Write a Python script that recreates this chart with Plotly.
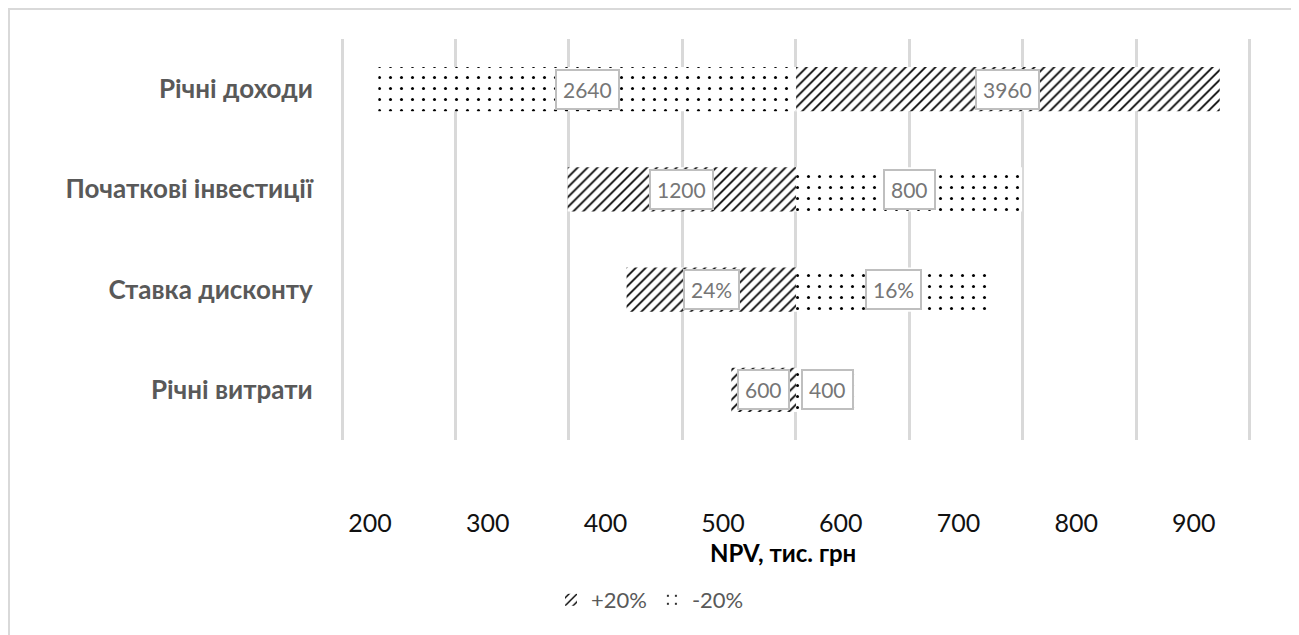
import plotly.graph_objects as go

# ---- data ----
categories = ["Річні доходи", "Початкові інвестиції", "Ставка дисконту", "Річні витрати"]
npv_base = 562
npv_plus20 = [922, 368, 418, 507]    # NPV when factor +20%
npv_minus20 = [207, 754, 728, 616]   # NPV when factor -20%
label_plus20 = ["3960", "1200", "24%", "600"]
label_minus20 = ["2640", "800", "16%", "400"]
tick_values = [200, 300, 400, 500, 600, 700, 800, 900]

# page has an 8px body margin; figure coordinates = page coordinates - 8
OFF = 8
W, H = 1299, 635
L = 330 - OFF            # plot left at page x=330
T = 39 - OFF             # plot top at page y=39
R = W - (1262 - OFF)     # plot right at page x=1262
B = H - (440 - OFF)      # plot bottom at page y=440
PW, PH = W - L - R, H - T - B
x_range = [166.0, 957.9]

def px_x(p):
    return (p - OFF - L) / PW

def px_y(p):
    return (H - B - (p - OFF)) / PH

fig = go.Figure()

fig.add_trace(go.Bar(
    name="+20%", y=categories, x=[v - npv_base for v in npv_plus20], base=npv_base,
    orientation="h",
    marker=dict(color="white", line=dict(width=0),
                pattern=dict(shape="/", fgcolor="#000000", bgcolor="white", fgopacity=1,
                             size=7, solidity=0.25)),
    hoverinfo="skip",
))
fig.add_trace(go.Bar(
    name="-20%", y=categories, x=[v - npv_base for v in npv_minus20], base=npv_base,
    orientation="h",
    marker=dict(color="white", line=dict(width=0),
                pattern=dict(shape=".", fgcolor="#000000", bgcolor="white", fgopacity=1,
                             size=11, solidity=0.06)),
    hoverinfo="skip",
))
# empty helper trace so the grid-only overlay axis is drawn
fig.add_trace(go.Scatter(x=[], y=[], xaxis="x2", yaxis="y", showlegend=False, hoverinfo="skip"))

annotations = []
for cat, v, lab in zip(categories, npv_plus20, label_plus20):
    annotations.append(dict(x=(v + npv_base) / 2, y=cat, xref="x", yref="y", text=lab,
                            showarrow=False, bgcolor="white", bordercolor="#bfbfbf", borderwidth=2,
                            borderpad=6, font=dict(size=21, color="#767676", family="Lato")))
for cat, v, lab in zip(categories, npv_minus20, label_minus20):
    annotations.append(dict(x=(v + npv_base) / 2, y=cat, xref="x", yref="y", text=lab,
                            showarrow=False, bgcolor="white", bordercolor="#bfbfbf", borderwidth=2,
                            borderpad=6, font=dict(size=21, color="#767676", family="Lato")))
annotations.append(dict(x=px_x(783), y=px_y(552), xref="paper", yref="paper",
                        xanchor="center", yanchor="middle",
                        text="<b>NPV, тис. грн</b>", showarrow=False,
                        font=dict(size=24, color="#000000", family="Lato")))

fig.update_layout(
    width=W, height=H,
    margin=dict(l=L, r=R, t=T, b=B),
    paper_bgcolor="white", plot_bgcolor="white",
    font=dict(family="Lato"),
    barmode="overlay", bargap=0.56,
    showlegend=True,
    legend=dict(orientation="h", x=px_x(650), xanchor="center", y=px_y(600), yanchor="middle",
                font=dict(size=22, color="#595959"), traceorder="normal"),
    xaxis=dict(range=x_range, tickvals=tick_values, showgrid=False, zeroline=False,
               showline=False, ticks="outside", ticklen=61, tickcolor="rgba(0,0,0,0)",
               tickfont=dict(size=25, color="#111111")),
    xaxis2=dict(overlaying="x", range=x_range, tick0=176.2, dtick=96.4, showgrid=True,
                gridcolor="#d9d9d9", gridwidth=2.5, showticklabels=False, zeroline=False,
                showline=False, ticks=""),
    yaxis=dict(autorange="reversed", showgrid=False, zeroline=False, showline=False,
               ticks="outside", ticklen=11, tickcolor="rgba(0,0,0,0)",
               tickfont=dict(size=26, color="#595959", family="Lato")),
    annotations=annotations,
    shapes=[dict(type="rect", xref="paper", yref="paper",
                 x0=px_x(9), x1=px_x(1292), y0=px_y(680), y1=px_y(9),
                 line=dict(color="#d9d9d9", width=2), fillcolor="rgba(0,0,0,0)", layer="below")],
)
fig.update_yaxes(tickprefix="<b>", ticksuffix="</b>")

fig.write_html("out.html")
